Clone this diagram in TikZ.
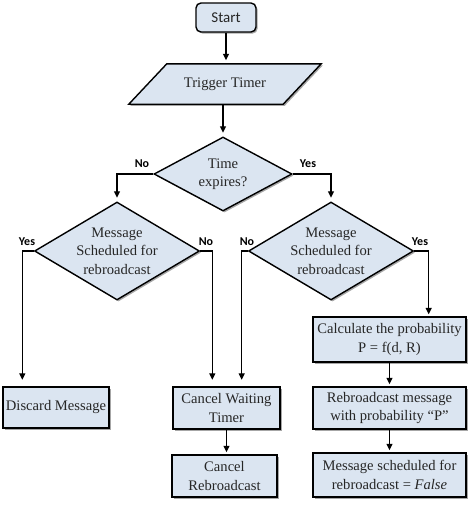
\documentclass[tikz,border=0pt]{standalone}
\usepackage{fontspec}
\setmainfont{Liberation Serif}
\newfontfamily\lblfont{Carlito}
\usetikzlibrary{shapes.geometric,shadows,arrows.meta,backgrounds}
\definecolor{boxblue}{RGB}{219,229,241}
\begin{document}
\begin{tikzpicture}[x=1pt,y=-1pt,
  shad/.style={drop shadow={shadow xshift=1.6pt,shadow yshift=-1.6pt,fill=black,opacity=0.35}},
  txt/.style={font=\fontsize{14.6}{18.3}\selectfont,align=center,text=black!85},
  box/.style={draw,line width=1.4pt,fill=boxblue,shad,txt,inner sep=0pt},
  dec/.style={diamond,draw,line width=1.4pt,fill=boxblue,shad,txt,inner sep=0pt},
  arr/.style={line width=1.3pt,-{Triangle[length=6.5pt,width=6pt]},shorten >=3.5pt},
  lbl/.style={font=\lblfont\bfseries\fontsize{12}{14}\selectfont,inner sep=0pt}]
\useasboundingbox (0,0) rectangle (474,506);

\node[box,rounded corners=5pt,minimum width=60pt,minimum height=29pt,
      font=\lblfont\fontsize{15}{18}\selectfont] (start) at (226,17.5) {Start};

\node[txt,minimum width=154pt,minimum height=40pt,inner sep=0pt] (trig) at (225,84) {Trigger Timer};
\begin{pgfonlayer}{background}
  \path[draw,line width=1.4pt,fill=boxblue,shad]
    ([xshift=19pt]trig.north west) -- ([xshift=19pt]trig.north east)
    -- ([xshift=-19pt]trig.south east) -- ([xshift=-19pt]trig.south west) -- cycle;
\end{pgfonlayer}

\node[dec,aspect=1.86,minimum width=138pt,minimum height=74pt] (tx) at (223,174) {Time\\expires?};
\node[dec,aspect=1.68,minimum width=165pt,minimum height=98pt] (ld) at (117,251) {Message\\Scheduled for\\rebroadcast};
\node[dec,aspect=1.68,minimum width=165pt,minimum height=98pt] (rd) at (331,251) {Message\\Scheduled for\\rebroadcast};

\node[box,minimum width=153pt,minimum height=45pt] (calc) at (389.5,339.5) {Calculate the probability\\P = f(d, R)};
\node[box,minimum width=153pt,minimum height=42pt] (rebr) at (389.5,408) {Rebroadcast message\\with probability “P”};
\node[box,minimum width=153pt,minimum height=44pt] (msf) at (389.5,475) {Message scheduled for\\rebroadcast = \textit{False}};
\node[box,minimum width=106pt,minimum height=41pt] (disc) at (56,407.5) {Discard Message};
\node[box,minimum width=107pt,minimum height=42pt] (cw) at (226.5,408) {Cancel Waiting\\Timer};
\node[box,minimum width=105pt,minimum height=42pt] (cr) at (224.5,476) {Cancel\\Rebroadcast};

\draw[arr] (start.south) -- (start.south |- trig.north);
\draw[arr] (trig.south -| tx.north) -- (tx.north);
\draw[arr] (tx.west) -| (ld.north);
\draw[arr] (tx.east) -| (rd.north);
\draw[arr,shorten >=6.5pt] (ld.west) -| ([xshift=20pt]disc.north west);
\draw[arr,shorten >=6.5pt] (ld.east) -| ([xshift=40pt]cw.north west);
\draw[arr,shorten >=6.5pt] (rd.west) -| ([xshift=-39pt]cw.north east);
\draw[arr,shorten >=2pt] (rd.east) -| ([xshift=-38pt]calc.north east);
\draw[arr,shorten >=2pt] (cw.south) -- (cw.south |- cr.north);
\draw[arr,shorten >=2pt] (calc) -- (rebr);
\draw[arr,shorten >=2pt] (rebr) -- (msf);

\node[lbl] (n1) at (142,164) {No};
\node[lbl] (y1) at (308,164) {Yes};
\node[lbl] (y2) at (27,242) {Yes};
\node[lbl] (n2) at (206,242) {No};
\node[lbl] (n3) at (247,242) {No};
\node[lbl] (y3) at (420,242) {Yes};
\end{tikzpicture}
\end{document}
